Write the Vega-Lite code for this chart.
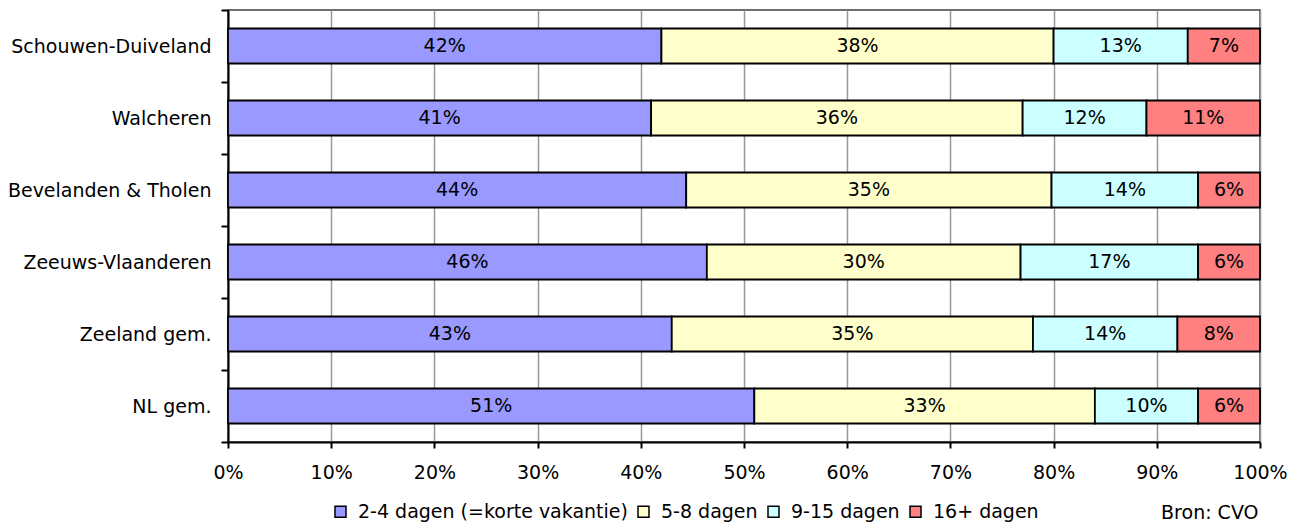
{
  "$schema": "https://vega.github.io/schema/vega-lite/v6.json",
  "width": 1032,
  "height": 432,
  "autosize": "none",
  "padding": {"left": 228, "top": 10, "right": 40, "bottom": 84},
  "background": "white",
  "config": {
    "font": "DejaVu Sans",
    "view": {"stroke": "#404040", "strokeWidth": 1.5},
    "legend": {
      "orient": "none",
      "legendX": 103,
      "legendY": 492,
      "direction": "horizontal",
      "padding": 0,
      "symbolType": "square",
      "symbolSize": 121,
      "symbolStrokeColor": "black",
      "symbolStrokeWidth": 1.5,
      "labelFontSize": 19,
      "labelColor": "black",
      "labelOffset": 8,
      "columnPadding": 6,
      "labelLimit": 0
    }
  },
  "data": {
    "values": [
      {"region": "Schouwen-Duiveland", "duur": "2-4 dagen (=korte vakantie)", "k": 1, "share": 0.42},
      {"region": "Schouwen-Duiveland", "duur": "5-8 dagen", "k": 2, "share": 0.38},
      {"region": "Schouwen-Duiveland", "duur": "9-15 dagen", "k": 3, "share": 0.13},
      {"region": "Schouwen-Duiveland", "duur": "16+ dagen", "k": 4, "share": 0.07},
      {"region": "Walcheren", "duur": "2-4 dagen (=korte vakantie)", "k": 1, "share": 0.41},
      {"region": "Walcheren", "duur": "5-8 dagen", "k": 2, "share": 0.36},
      {"region": "Walcheren", "duur": "9-15 dagen", "k": 3, "share": 0.12},
      {"region": "Walcheren", "duur": "16+ dagen", "k": 4, "share": 0.11},
      {"region": "Bevelanden & Tholen", "duur": "2-4 dagen (=korte vakantie)", "k": 1, "share": 0.444},
      {"region": "Bevelanden & Tholen", "duur": "5-8 dagen", "k": 2, "share": 0.354},
      {"region": "Bevelanden & Tholen", "duur": "9-15 dagen", "k": 3, "share": 0.142},
      {"region": "Bevelanden & Tholen", "duur": "16+ dagen", "k": 4, "share": 0.06},
      {"region": "Zeeuws-Vlaanderen", "duur": "2-4 dagen (=korte vakantie)", "k": 1, "share": 0.464},
      {"region": "Zeeuws-Vlaanderen", "duur": "5-8 dagen", "k": 2, "share": 0.304},
      {"region": "Zeeuws-Vlaanderen", "duur": "9-15 dagen", "k": 3, "share": 0.172},
      {"region": "Zeeuws-Vlaanderen", "duur": "16+ dagen", "k": 4, "share": 0.06},
      {"region": "Zeeland gem.", "duur": "2-4 dagen (=korte vakantie)", "k": 1, "share": 0.43},
      {"region": "Zeeland gem.", "duur": "5-8 dagen", "k": 2, "share": 0.35},
      {"region": "Zeeland gem.", "duur": "9-15 dagen", "k": 3, "share": 0.14},
      {"region": "Zeeland gem.", "duur": "16+ dagen", "k": 4, "share": 0.08},
      {"region": "NL gem.", "duur": "2-4 dagen (=korte vakantie)", "k": 1, "share": 0.51},
      {"region": "NL gem.", "duur": "5-8 dagen", "k": 2, "share": 0.33},
      {"region": "NL gem.", "duur": "9-15 dagen", "k": 3, "share": 0.10},
      {"region": "NL gem.", "duur": "16+ dagen", "k": 4, "share": 0.06}
    ]
  },
  "transform": [
    {"stack": "share", "groupby": ["region"], "sort": [{"field": "k", "order": "ascending"}], "as": ["x0", "x1"]},
    {"calculate": "(datum.x0 + datum.x1) / 2", "as": "xm"}
  ],
  "encoding": {
    "y": {
      "field": "region",
      "type": "nominal",
      "sort": ["Schouwen-Duiveland", "Walcheren", "Bevelanden & Tholen", "Zeeuws-Vlaanderen", "Zeeland gem.", "NL gem."],
      "scale": {"paddingInner": 0, "paddingOuter": 0},
      "axis": {
        "title": null,
        "labelFontSize": 19,
        "labelColor": "black",
        "labelLimit": 0,
        "labelPadding": 10,
        "tickBand": "extent",
        "tickSize": 7,
        "tickColor": "black",
        "tickWidth": 2,
        "domainColor": "black",
        "domainWidth": 2,
        "grid": false
      }
    }
  },
  "layer": [
    {
      "mark": {"type": "bar", "stroke": "black", "strokeWidth": 1.8, "height": {"band": 0.486}},
      "encoding": {
        "x": {
          "field": "x0",
          "type": "quantitative",
          "scale": {"domain": [0, 1], "nice": false},
          "axis": {
            "title": "Bron: CVO",
            "titleFontSize": 19,
            "titleFontWeight": "normal",
            "titleColor": "black",
            "titleAlign": "right",
            "titleAnchor": "end",
            "titleBaseline": "alphabetic",
            "titleX": 1030,
            "titleY": 76,
            "format": ".0%",
            "values": [0, 0.1, 0.2, 0.3, 0.4, 0.5, 0.6, 0.7, 0.8, 0.9, 1],
            "labelFlush": false,
            "labelOverlap": false,
            "labelFontSize": 19,
            "labelColor": "black",
            "labelPadding": 15,
            "tickSize": 6,
            "tickColor": "black",
            "tickWidth": 2,
            "domainColor": "black",
            "domainWidth": 2,
            "grid": true,
            "gridColor": "#999999",
            "gridWidth": 1.5
          }
        },
        "x2": {"field": "x1"},
        "color": {
          "field": "duur",
          "type": "nominal",
          "title": null,
          "scale": {
            "domain": ["2-4 dagen (=korte vakantie)", "5-8 dagen", "9-15 dagen", "16+ dagen"],
            "range": ["#9999FF", "#FFFFCC", "#CCFFFF", "#FF8080"]
          }
        }
      }
    },
    {
      "mark": {"type": "text", "fontSize": 19, "color": "black", "align": "center", "baseline": "middle"},
      "encoding": {
        "x": {"field": "xm", "type": "quantitative"},
        "text": {"field": "share", "type": "quantitative", "format": ".0%"}
      }
    }
  ]
}
